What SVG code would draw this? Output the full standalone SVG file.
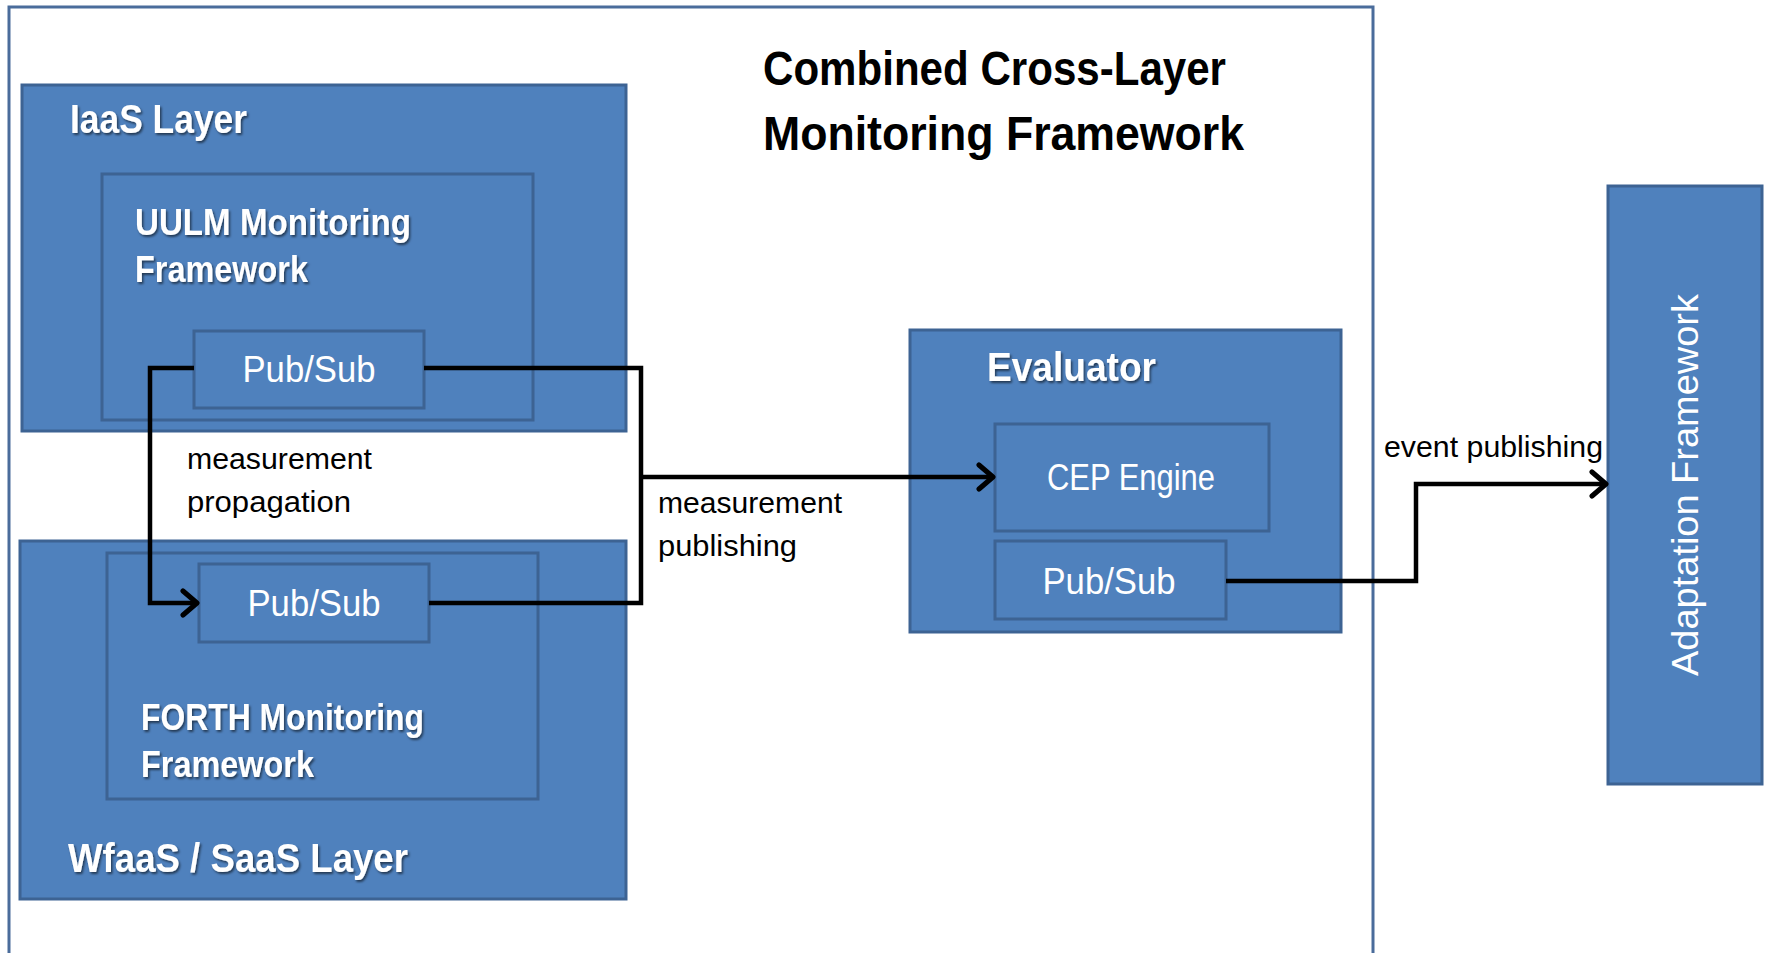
<svg xmlns="http://www.w3.org/2000/svg" width="1769" height="953" viewBox="0 0 1769 953">
<defs>
<style>
.frame{fill:#fff;stroke:#4A6C9B;stroke-width:3}
.box{fill:#4F81BD;stroke:#3D6393;stroke-width:3}
.w{font-family:"Liberation Sans",Arial,sans-serif;fill:#fff}
.wb{font-family:"Liberation Sans",Arial,sans-serif;fill:#fff;font-weight:bold;filter:url(#sh)}
.t{font-family:"Liberation Sans",Arial,sans-serif;fill:#000;font-weight:bold}
.n{font-family:"Liberation Sans",Arial,sans-serif;fill:#000;font-size:30px}
.conn{fill:none;stroke:#000;stroke-width:4.5;stroke-linejoin:miter}
</style>
<filter id="sh" x="-5%" y="-20%" width="115%" height="150%">
<feDropShadow dx="1.5" dy="2" stdDeviation="1.2" flood-color="#000" flood-opacity="0.55"/>
</filter>
<marker id="arr" viewBox="0 0 22 30" refX="19" refY="15" markerWidth="22" markerHeight="30" markerUnits="userSpaceOnUse" orient="auto">
<path d="M5,3 L19,15 L5,27" fill="none" stroke="#000" stroke-width="5" stroke-linecap="round" stroke-linejoin="round"/>
</marker>
</defs>

<g id="outer-frame">
<rect class="frame" x="9" y="7" width="1364" height="960"/>
<text class="t" x="763" y="85" font-size="49" textLength="463" lengthAdjust="spacingAndGlyphs">Combined Cross-Layer</text>
<text class="t" x="763" y="150" font-size="49" textLength="481" lengthAdjust="spacingAndGlyphs">Monitoring Framework</text>
</g>

<g id="iaas-layer">
<rect class="box" x="22" y="85" width="604" height="346"/>
<text class="wb" x="70" y="133" font-size="41" textLength="177" lengthAdjust="spacingAndGlyphs">IaaS Layer</text>
</g>

<g id="uulm-framework">
<rect class="box" x="102" y="174" width="431" height="246"/>
<text class="wb" x="135" y="235" font-size="36" textLength="276" lengthAdjust="spacingAndGlyphs">UULM Monitoring</text>
<text class="wb" x="135" y="282" font-size="36" textLength="173" lengthAdjust="spacingAndGlyphs">Framework</text>
</g>

<g id="uulm-pubsub">
<rect class="box" x="194" y="331" width="230" height="77"/>
<text class="w" x="309" y="382" font-size="36" text-anchor="middle" textLength="133" lengthAdjust="spacingAndGlyphs">Pub/Sub</text>
</g>

<g id="wfaas-layer">
<rect class="box" x="20" y="541" width="606" height="358"/>
<text class="wb" x="68" y="872" font-size="41" textLength="340" lengthAdjust="spacingAndGlyphs">WfaaS / SaaS Layer</text>
</g>

<g id="forth-framework">
<rect class="box" x="107" y="553" width="431" height="246"/>
<text class="wb" x="141" y="730" font-size="36" textLength="283" lengthAdjust="spacingAndGlyphs">FORTH Monitoring</text>
<text class="wb" x="141" y="777" font-size="36" textLength="173" lengthAdjust="spacingAndGlyphs">Framework</text>
</g>

<g id="forth-pubsub">
<rect class="box" x="199" y="564" width="230" height="78"/>
<text class="w" x="314" y="616" font-size="36" text-anchor="middle" textLength="133" lengthAdjust="spacingAndGlyphs">Pub/Sub</text>
</g>

<g id="evaluator">
<rect class="box" x="910" y="330" width="431" height="302"/>
<text class="wb" x="987" y="381" font-size="41" textLength="169" lengthAdjust="spacingAndGlyphs">Evaluator</text>
</g>

<g id="cep-engine">
<rect class="box" x="995" y="424" width="274" height="107"/>
<text class="w" x="1131" y="490" font-size="36" text-anchor="middle" textLength="168" lengthAdjust="spacingAndGlyphs">CEP Engine</text>
</g>

<g id="evaluator-pubsub">
<rect class="box" x="995" y="541" width="231" height="78"/>
<text class="w" x="1109" y="594" font-size="36" text-anchor="middle" textLength="133" lengthAdjust="spacingAndGlyphs">Pub/Sub</text>
</g>

<g id="adaptation-framework">
<rect class="box" x="1608" y="186" width="154" height="598"/>
<text class="w" transform="translate(1698,485) rotate(-90)" x="0" y="0" font-size="36" text-anchor="middle" textLength="382" lengthAdjust="spacingAndGlyphs">Adaptation Framework</text>
</g>

<g id="connectors">
<path class="conn" d="M194,368 H150 V603 H197" marker-end="url(#arr)"/>
<path class="conn" d="M424,368 H641 V603 H429"/>
<path class="conn" d="M641,477 H993" marker-end="url(#arr)"/>
<path class="conn" d="M1226,581 H1416 V484 H1606" marker-end="url(#arr)"/>
</g>

<g id="labels">
<text class="n" x="187" y="469" textLength="185" lengthAdjust="spacingAndGlyphs">measurement</text>
<text class="n" x="187" y="512" textLength="164" lengthAdjust="spacingAndGlyphs">propagation</text>
<text class="n" x="658" y="513" textLength="184" lengthAdjust="spacingAndGlyphs">measurement</text>
<text class="n" x="658" y="556" textLength="139" lengthAdjust="spacingAndGlyphs">publishing</text>
<text class="n" x="1384" y="457" textLength="219" lengthAdjust="spacingAndGlyphs">event publishing</text>
</g>
</svg>
